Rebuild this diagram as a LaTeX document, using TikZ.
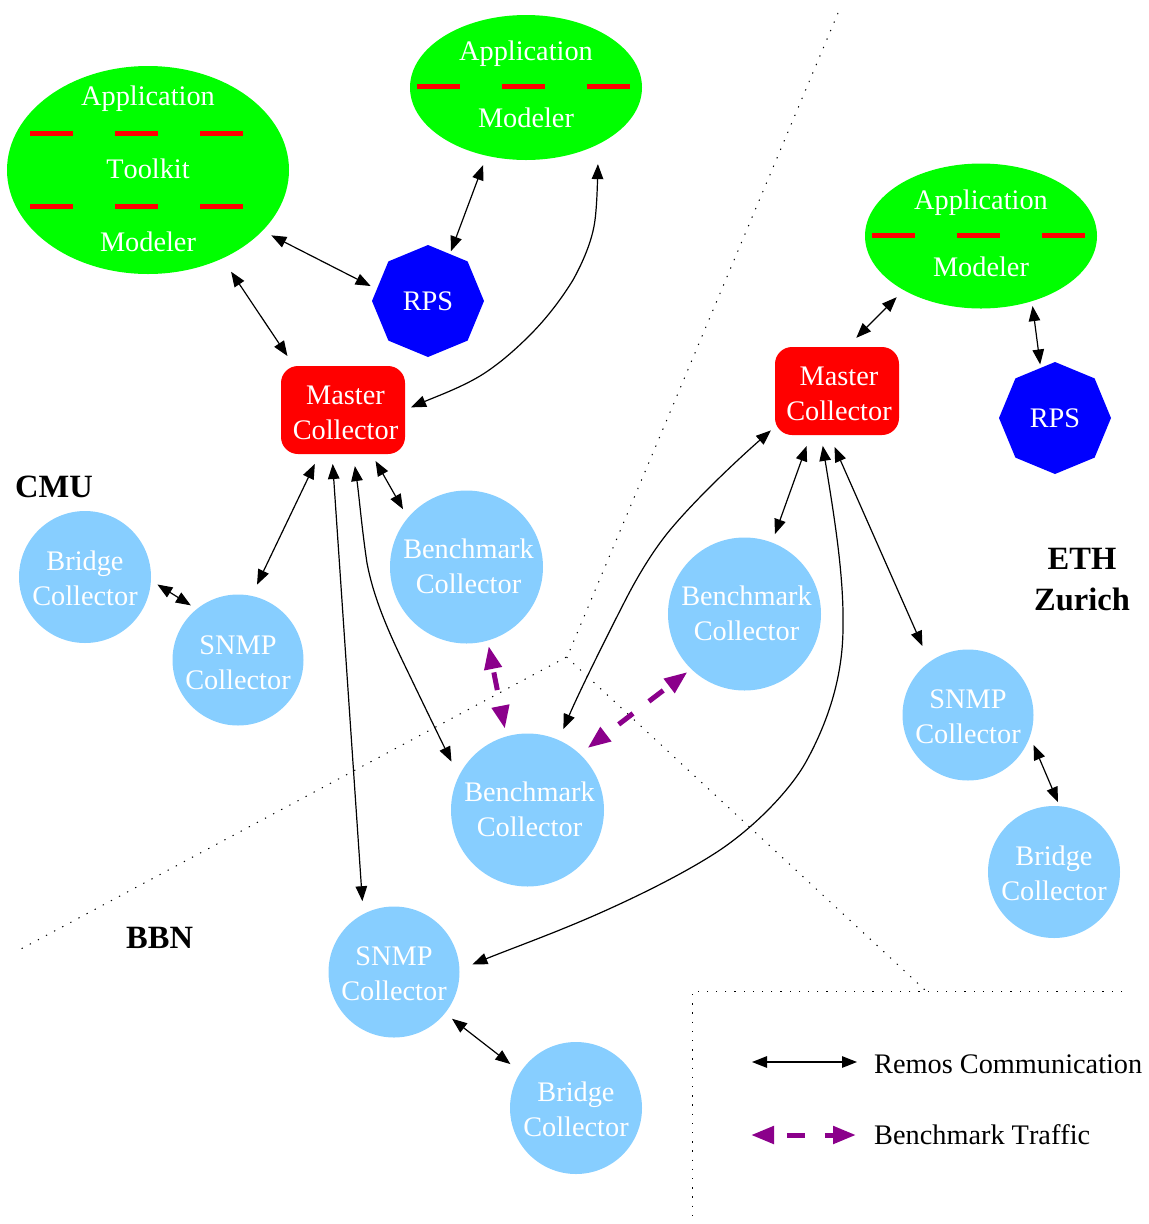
\documentclass[tikz,border=0pt]{standalone}
\usepackage{fontspec}
\setmainfont[Kerning=Off]{Liberation Serif}
\usetikzlibrary{arrows.meta,shapes.geometric}
\definecolor{skyb}{RGB}{135,206,255}
\definecolor{purp}{RGB}{139,0,139}
\newcommand\nudge[3]{\leavevmode\kern#1\raisebox{#2}[\height][\depth]{#3}\kern-#1\relax}
\newcommand\two[4]{\nudge{#1}{#2}{#3}\\\nudge{#1}{#2}{#4}}
\tikzset{
  lbl/.style={font=\fontsize{28.3}{35}\selectfont,align=center,text=white,inner sep=0pt,outer sep=0pt},
  collector/.style={lbl,circle,fill=skyb,minimum size=#1},
  collector/.default=131pt,
  bench/.style={collector=153pt},
  master/.style={lbl,rectangle,rounded corners=17pt,fill=red,minimum width=124pt,minimum height=88pt},
  rps/.style={lbl,regular polygon,regular polygon sides=8,shape border rotate=22.5,fill=blue,minimum size=112pt},
  bigapp/.style={lbl,ellipse,fill=green,inner ysep=-20pt,minimum width=282pt,minimum height=208pt,font=\fontsize{28.3}{73}\selectfont},
  app/.style={lbl,ellipse,fill=green,minimum width=232pt,minimum height=145pt,font=\fontsize{28.3}{67}\selectfont},
  sep/.style={red,line width=4.6pt,dash pattern=on 43pt off 42pt},
  remos/.style={black,line width=1.2pt,{Triangle[length=15pt,width=11.5pt]}-{Triangle[length=15pt,width=11.5pt]}},
  traffic/.style={purp,line width=5pt,{Triangle[length=23pt,width=17pt]}-{Triangle[length=23pt,width=17pt]},dash pattern=on 18pt off 20pt,dash phase=#1},
  boundary/.style={black,line width=1pt,dash pattern=on 1.3pt off 7.9pt},
  site/.style={font=\fontsize{32.5}{41}\selectfont\bfseries,align=center,inner sep=0pt},
  legendtext/.style={font=\fontsize{28.3}{35}\selectfont,anchor=base west,inner sep=0pt},
}
\begin{document}
\begin{tikzpicture}[x=1pt,y=-1pt]
\useasboundingbox (0,0) rectangle (1149,1224);
% boundaries
\coordinate (apex) at (566.5,657);
\coordinate (bTop) at (838,13);
\coordinate (bBend) at (570,650);
\coordinate (bLeft) at (19,950);
\coordinate (bRight) at (925,990);
\coordinate (lgA) at (692.3,991.3);
\coordinate (lgB) at (1122,991.3);
\coordinate (lgC) at (692.3,1226);
\draw[boundary] (bTop) -- (bBend) -- (apex) -- (bLeft);
\draw[boundary] (apex) -- (bRight);
\draw[boundary] (lgB) -- (lgA) -- (lgC);
% nodes
\node[bigapp] (E1) at (148,170) {\nudge{0pt}{1pt}{Application}\\\nudge{0pt}{1pt}{Toolkit}\\\nudge{0pt}{1pt}{Modeler}};
\node[app] (E2) at (526,87.5) {\two{0pt}{3pt}{Application}{Modeler}};
\node[app] (E3) at (981,236) {\two{0pt}{3pt}{Application}{Modeler}};
\draw[sep] (30,133.3) -- (243,133.3);
\draw[sep] (30,206.7) -- (243,206.7);
\draw[sep] (417,86.3) -- (630,86.3);
\draw[sep] (872,235.3) -- (1085,235.3);
\node[rps] (R1) at (428,301) {RPS};
\node[rps] (R2) at (1055,418) {RPS};
\node[master] (M1) at (343,410) {\two{2.5pt}{-3pt}{Master}{Collector}};
\node[master] (M2) at (837,391) {\two{2pt}{-3pt}{Master}{Collector}};
\node[collector=132pt] (Br1) at (85,577) {\two{0pt}{-1.5pt}{Bridge}{Collector}};
\node[collector] (S1) at (238,660) {\two{0pt}{-2.5pt}{SNMP}{Collector}};
\node[bench] (B1) at (466.5,567) {\two{2pt}{1pt}{Benchmark}{Collector}};
\node[bench] (B2) at (744.5,614) {\two{2pt}{0.5pt}{Benchmark}{Collector}};
\node[bench] (B3) at (527.5,810) {\two{2pt}{1pt}{Benchmark}{Collector}};
\node[collector] (S2) at (968,715) {\two{0pt}{-1.5pt}{SNMP}{Collector}};
\node[collector=132pt] (Br2) at (1054,872) {\two{0pt}{-1pt}{Bridge}{Collector}};
\node[collector] (S3) at (394,972) {\two{0pt}{-2pt}{SNMP}{Collector}};
\node[collector=132pt] (Br3) at (576,1108) {\two{0pt}{-1pt}{Bridge}{Collector}};
% site labels
\node[site,anchor=base west] (cmu) at (15,497) {CMU};
\node[site,anchor=base] (eth) at (1082,610) {ETH\\Zurich};
\node[site,anchor=base west] (bbn) at (126,948) {BBN};
% straight connectors
\draw[remos,shorten <=10pt,shorten >=7pt] (E1.-28.3) -- (R1.167.1);
\draw[remos,shorten <=16pt,shorten >=12pt] (E1.-50) -- (M1.138.9);
\draw[remos,shorten <=10pt,shorten >=3pt] (E2.240.4) -- (R1.65.9);
\draw[remos,shorten <=11pt,shorten >=12.5pt] (M1.242.6) -- (S1.78.9);
\draw[remos,shorten <=8pt,shorten >=9.9pt] (M1.-57.4) -- (B1.140.8);
\draw[remos,shorten <=10pt,shorten >=13pt] (M1.256.3) -- (S3.118.6);
\draw[remos,shorten <=7.6pt,shorten >=7pt] (Br1.-3.4) -- (S1.129.3);
\draw[remos,shorten <=12.9pt,shorten >=10pt] (M2.77.4) -- (E3.215.4);
\draw[remos,shorten <=5pt,shorten >=3.5pt] (E3.-52.9) -- (R2.106);
\draw[remos,shorten <=11.75pt,shorten >=9pt] (M2.239.5) -- (B2.69.4);
\draw[remos,shorten <=13pt,shorten >=17.5pt] (M2.260.7) -- (S2.126.9);
\draw[remos,shorten <=9.3pt,shorten >=4.5pt] (S2.-19.5) -- (Br2.85);
\draw[remos,shorten <=9pt,shorten >=13pt] (S3.-39.8) -- (Br3.147.9);
% curved connectors
\draw[remos,shorten <=20pt,shorten >=6.6pt] (E2.-38.8) .. controls (597.5,180) and (597,205) .. (595,220) .. controls (592.5,240) and (583,262) .. (573,280) .. controls (562,298) and (547,318) .. (530,335) .. controls (515,350) and (498,365) .. (480,376) .. controls (460,388) and (435,397) .. (M1.-0.6);
\draw[remos,shorten <=12.2pt,shorten >=16.5pt] (M1.-77.1) .. controls (359,495) and (362,530) .. (367,563) .. controls (374,600) and (390,635) .. (407,670) .. controls (420,697) and (434,726) .. (B3.154.3);
\draw[remos,shorten <=5.4pt,shorten >=12pt] (M2.210.4) .. controls (735,462) and (695,500) .. (670,530) .. controls (655,548) and (640,572) .. (627,597) .. controls (610,630) and (580,690) .. (B3.66);
\draw[remos,shorten <=11pt,shorten >=14pt] (M2.250.2) .. controls (834,515) and (844,575) .. (843,627) .. controls (843,680) and (826,725) .. (807,760) .. controls (792,788) and (757,825) .. (720,850) .. controls (690,870) and (645,893) .. (600,913) .. controls (555,933) and (510,949) .. (S3.2.6);
% benchmark traffic
\draw[traffic=33pt,shorten <=5.7pt,shorten >=8pt] (B1.-74.1) -- (B3.106.4);
\draw[traffic=29.4pt,shorten <=5pt,shorten >=10pt] (B2.226) -- (B3.47.1);
% legend
\coordinate (k1) at (752,1062);
\coordinate (k2) at (857,1062);
\coordinate (k3) at (751,1135);
\coordinate (k4) at (856,1135);
\draw[remos] (k1) -- (k2);
\draw[traffic=24pt] (k3) -- (k4);
\node[legendtext] (t1) at (874,1073) {Remos Communication};
\node[legendtext] (t2) at (874,1144) {Benchmark Traffic};
\end{tikzpicture}
\end{document}
